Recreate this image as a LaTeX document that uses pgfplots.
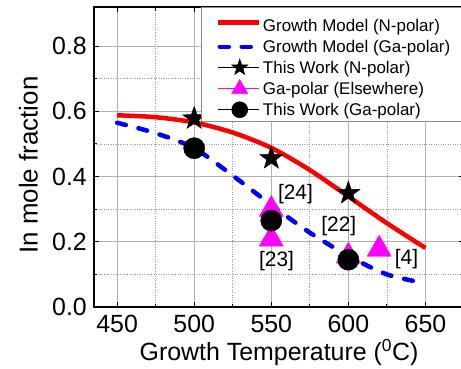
\documentclass[border=0pt]{standalone}
\usepackage{pgfplots}
\pgfplotsset{compat=1.18}
\usepackage{fontspec}
\setmainfont{Liberation Sans}
\definecolor{mag}{RGB}{255,0,255}
\definecolor{myred}{RGB}{255,0,0}
\definecolor{myblue}{RGB}{0,0,255}
\pgfdeclareplotmark{fstar}{%
  \pgfpathmoveto{\pgfpointpolar{90}{\pgfplotmarksize}}%
  \pgfpathlineto{\pgfpointpolar{126}{0.40\pgfplotmarksize}}%
  \pgfpathlineto{\pgfpointpolar{162}{\pgfplotmarksize}}%
  \pgfpathlineto{\pgfpointpolar{198}{0.40\pgfplotmarksize}}%
  \pgfpathlineto{\pgfpointpolar{234}{\pgfplotmarksize}}%
  \pgfpathlineto{\pgfpointpolar{270}{0.40\pgfplotmarksize}}%
  \pgfpathlineto{\pgfpointpolar{306}{\pgfplotmarksize}}%
  \pgfpathlineto{\pgfpointpolar{342}{0.40\pgfplotmarksize}}%
  \pgfpathlineto{\pgfpointpolar{18}{\pgfplotmarksize}}%
  \pgfpathlineto{\pgfpointpolar{54}{0.40\pgfplotmarksize}}%
  \pgfpathclose
  \pgfusepathqfillstroke}
\pgfplotsset{
  lineleg/.style={legend image code/.code={\draw[##1] (#1,0bp) -- (41bp,0bp);}},
  markleg/.style={legend image code/.code={\path (0bp,0bp) -- (41bp,0bp); \draw[##1, mark size=#1] plot coordinates {(22bp,0bp)};}},
}
\begin{document}
\begin{tikzpicture}
\begin{axis}[
  at={(0,0)}, anchor=south west,
  width=370bp, height=300bp, scale only axis,
  xmin=435, xmax=675, ymin=0, ymax=0.92,
  xtick={450,500,550,600,650}, ytick={0,0.2,0.4,0.6,0.8},
  minor x tick num=1, minor y tick num=1,
  grid=both,
  major grid style={solid, line width=0.8bp, color=black!30},
  minor grid style={dotted, line width=0.8bp, color=black!40},
  tick align=inside,
  major tick length=5bp, minor tick length=3.5bp,
  every tick/.style={black, line width=1bp},
  axis line style={line width=1.4bp},
  /pgf/number format/assume math mode=true,
  ticklabel style={font=\fontsize{25}{30}\selectfont},
  xticklabel style={inner sep=0pt, yshift=-8bp},
  yticklabel style={inner sep=0pt, xshift=-7bp, /pgf/number format/.cd, fixed, fixed zerofill, precision=1},
  xlabel={Growth Temperature (\textsuperscript{0}C)},
  xlabel style={at={(axis description cs:0.5,-0.177)}, anchor=base, inner sep=0pt, font=\fontsize{25}{30}\selectfont},
  ylabel={In mole fraction},
  ylabel style={at={(axis description cs:-0.1514,0.473)}, anchor=south, inner sep=0pt, font=\fontsize{26}{30}\selectfont},
  legend style={at={(rel axis cs:0.2892,1)}, anchor=north west, draw=black!45, line width=1bp, fill=white,
    font=\fontsize{17}{20}\selectfont, inner xsep=14bp, inner ysep=3bp, row sep=3bp,
    /tikz/every even column/.append style={column sep=4bp}},
  legend cell align=left,
]
\addplot[myred, line width=4.5bp, smooth, lineleg=0bp]
  coordinates {(450,0.588)(475,0.582)(500,0.566)(525,0.535)(550,0.488)(575,0.420)(600,0.339)(625,0.257)(650,0.181)};
\addlegendentry{\rule{0pt}{19bp}Growth Model (N-polar)}
\addplot[myblue, line width=4.5bp, line cap=round, dash pattern=on 9bp off 13bp, smooth, lineleg=2bp]
  coordinates {(450,0.565)(475,0.533)(500,0.487)(525,0.403)(550,0.313)(575,0.228)(600,0.157)(625,0.100)(650,0.073)};
\addlegendentry{Growth Model (Ga-polar)\hspace{20bp}}
\addplot[only marks, mark=fstar, mark size=12bp, black, mark options={fill=black, line width=0.5bp}, markleg=8.5bp]
  coordinates {(500,0.578)(550,0.456)(600,0.349)};
\addlegendentry{This Work (N-polar)}
\addplot[only marks, mark=triangle*, mark size=14bp, mag, mark options={fill=mag, draw=mag, line width=0.3bp}, markleg=9.5bp]
  coordinates {(550,0.299)(550,0.208)(600,0.156)(620,0.177)};
\addlegendentry{Ga-polar (Elsewhere)}
\addplot[only marks, mark=*, mark size=10.6bp, black, mark options={fill=black}, markleg=7.8bp]
  coordinates {(500,0.487)(550,0.265)(600,0.145)};
\addlegendentry{This Work (Ga-polar)}
\node[font=\fontsize{21}{24}\selectfont, inner sep=0pt] at (axis cs:565.7,0.346) {[24]};
\node[font=\fontsize{21}{24}\selectfont, inner sep=0pt] at (axis cs:593.8,0.249) {[22]};
\node[font=\fontsize{21}{24}\selectfont, inner sep=0pt] at (axis cs:553.4,0.140) {[23]};
\node[font=\fontsize{21}{24}\selectfont, inner sep=0pt] at (axis cs:637.7,0.147) {[4]};
\end{axis}
\pgfresetboundingbox
\path[use as bounding box] (-94bp,-62bp) rectangle (367bp,307bp);
\end{tikzpicture}
\end{document}
